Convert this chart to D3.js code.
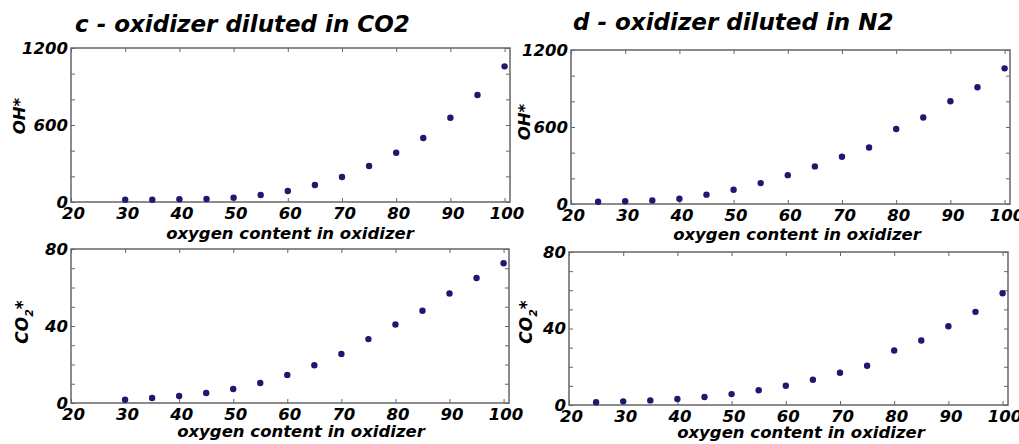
<!DOCTYPE html>
<html>
<head>
<meta charset="utf-8">
<script src="https://cdn.jsdelivr.net/npm/d3@7"></script>
<style>
  body { margin: 0; background: #fff; }
  text { font-family: "DejaVu Sans", sans-serif; font-weight: bold; font-style: italic; fill: #000; }
</style>
</head>
<body>
<svg width="1019" height="444"></svg>
<script>
// oxygen content (%) in the oxidizer
const oxygenCO2 = [30, 35, 40, 45, 50, 55, 60, 65, 70, 75, 80, 85, 90, 95, 100];
const oxygenN2 = [25, 30, 35, 40, 45, 50, 55, 60, 65, 70, 75, 80, 85, 90, 95, 100];

// OH* intensity
const ohCO2 = [18, 18, 21, 23, 34, 55, 86, 132, 195, 281, 384, 499, 657, 834, 1057];
const ohN2 = [18, 21, 28, 41, 73, 111, 163, 225, 293, 368, 440, 585, 674, 801, 910, 1057];

// CO2* intensity
const co2CO2 = [1.7, 2.6, 3.6, 5.2, 7.3, 10.4, 14.6, 19.6, 25.5, 33.2, 40.8, 47.9, 56.9, 64.9, 72.6];
const co2N2 = [1.4, 1.9, 2.4, 3.1, 4.2, 5.7, 7.7, 10.1, 13.2, 16.9, 20.5, 28.5, 33.7, 41.2, 48.7, 58.4];

// tick labels
const xTicks = [20, 30, 40, 50, 60, 70, 80, 90, 100];
const ohTicks = [0, 200, 400, 600, 800, 1000, 1200];
const ohLabels = [0, 600, 1200];
const co2Ticks = [0, 10, 20, 30, 40, 50, 60, 70, 80];
const co2Labels = [0, 40, 80];

const titles = ['c - oxidizer diluted in CO2', 'd - oxidizer diluted in N2'];
const xLabel = 'oxygen content in oxidizer';

const frameColor = '#666';
const dotColor = '#1a1a6e';

const svg = d3.select('svg');

function panel(opt) {
  const x = d3.scaleLinear().domain([20, 101]).range([opt.left, opt.right]);
  const y = d3.scaleLinear().domain(opt.yDomain).range([opt.bottom, opt.top]);

  const g = svg.append('g');

  // inward ticks on all four sides
  const bottomAxis = g.append('g')
      .attr('transform', `translate(0,${opt.bottom})`)
      .call(d3.axisBottom(x).tickValues(xTicks).tickSize(-4).tickPadding(5));
  g.append('g')
      .attr('transform', `translate(0,${opt.top})`)
      .call(d3.axisTop(x).tickValues(xTicks).tickSize(-4).tickFormat(''));
  const leftAxis = g.append('g')
      .attr('transform', `translate(${opt.left},0)`)
      .call(d3.axisLeft(y).tickValues(opt.yTicks).tickSize(-4).tickPadding(3)
        .tickFormat(d => opt.yLabels.includes(d) ? d : ''));
  g.append('g')
      .attr('transform', `translate(${opt.right},0)`)
      .call(d3.axisRight(y).tickValues(opt.yTicks).tickSize(-4).tickFormat(''));

  g.selectAll('.domain').remove();
  g.selectAll('.tick line').attr('stroke', frameColor);
  bottomAxis.selectAll('text').attr('font-size', 16.5).attr('dx', 2);
  leftAxis.selectAll('text').attr('font-size', 16.5);
  g.selectAll('.tick text').style('font-family', '"DejaVu Sans", sans-serif').attr('fill', '#000');

  g.append('rect')
      .attr('x', opt.left)
      .attr('y', opt.top)
      .attr('width', opt.right - opt.left)
      .attr('height', opt.bottom - opt.top)
      .attr('fill', 'none')
      .attr('stroke', frameColor)
      .attr('stroke-width', 1.5);

  g.selectAll('circle')
    .data(opt.xs.map((d, i) => [d, opt.ys[i]]))
    .join('circle')
      .attr('cx', d => x(d[0]))
      .attr('cy', d => y(d[1]))
      .attr('r', 3.2)
      .attr('fill', dotColor);

  g.append('text')
      .attr('x', opt.xLabelX)
      .attr('y', opt.xLabelY)
      .attr('text-anchor', 'middle')
      .attr('font-size', 16.5)
      .text(xLabel);

  const yl = g.append('text')
      .attr('transform', `translate(${opt.yLabelX},${opt.yLabelY}) rotate(-90)`)
      .attr('text-anchor', 'middle')
      .attr('font-size', 17);
  if (opt.co2) {
    yl.append('tspan').text('CO');
    yl.append('tspan').attr('font-size', 11).attr('dy', 5).text('2');
    yl.append('tspan').attr('dy', -5).text('*');
  } else {
    yl.attr('font-size', 16.5).text('OH*');
  }

  if (opt.title) {
    g.append('text')
        .attr('x', opt.titleX)
        .attr('y', opt.titleY)
        .attr('font-size', 23)
        .text(opt.title);
  }
}

panel({
  left: 71, right: 510, top: 48, bottom: 202,
  yDomain: [0, 1200], yTicks: ohTicks, yLabels: ohLabels,
  xs: oxygenCO2, ys: ohCO2,
  xLabelX: 290, xLabelY: 239, yLabelX: 25, yLabelY: 116,
  title: titles[0], titleX: 75, titleY: 32
});
panel({
  left: 571, right: 1010, top: 50, bottom: 204,
  yDomain: [0, 1200], yTicks: ohTicks, yLabels: ohLabels,
  xs: oxygenN2, ys: ohN2,
  xLabelX: 797, xLabelY: 240, yLabelX: 530, yLabelY: 122,
  title: titles[1], titleX: 573, titleY: 30
});
panel({
  left: 71, right: 509, top: 249, bottom: 403,
  yDomain: [0, 80], yTicks: co2Ticks, yLabels: co2Labels,
  xs: oxygenCO2, ys: co2CO2, co2: true,
  xLabelX: 301, xLabelY: 437, yLabelX: 28, yLabelY: 322
});
panel({
  left: 569, right: 1008, top: 252, bottom: 405,
  yDomain: [0, 80], yTicks: co2Ticks, yLabels: co2Labels,
  xs: oxygenN2, ys: co2N2, co2: true,
  xLabelX: 801, xLabelY: 438, yLabelX: 532, yLabelY: 322
});
</script>
</body>
</html>
